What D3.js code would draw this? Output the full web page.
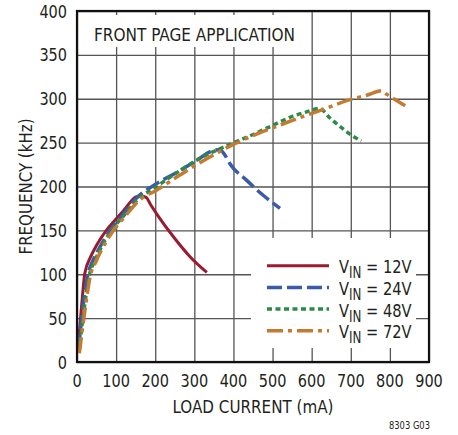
<!DOCTYPE html>
<html>
<head>
<meta charset="utf-8">
<script src="https://cdn.jsdelivr.net/npm/d3@7"></script>
<style>
  html, body { margin: 0; padding: 0; background: #fff; }
  svg { display: block; font-family: "Liberation Sans Narrow", "DejaVu Sans Condensed", "Arial Narrow", sans-serif; }
</style>
</head>
<body>
<svg id="chart" width="458" height="435"></svg>
<script>
// Switching frequency vs load current, one curve per input voltage
const xTicks = [0, 100, 200, 300, 400, 500, 600, 700, 800, 900];
const yTicks = [0, 50, 100, 150, 200, 250, 300, 350, 400];

const seriesLabels = ["12V", "24V", "48V", "72V"];

// [load current (mA), frequency (kHz)]
const vin12 = [[3,18],[12,65],[20,101],[35,120],[50,133],[75,150],[100,163],[120,173],[140,184],[150,188],[165,189],[176,188],[190,178],[208,166],[246,143],[289,120],[332,102]];
const vin24 = [[4,14],[15,62],[28,100],[40,115],[55,128],[84,150],[114,166],[148,185],[195,201],[255,216],[300,228],[349,241],[365,242],[378,236],[391,226],[434,207],[476,190],[519,175]];
const vin48 = [[5,12],[18,60],[32,100],[45,115],[59,128],[88,150],[118,166],[155,185],[200,199],[263,218],[306,230],[391,248],[459,261],[502,270],[557,281],[587,285],[620,289],[647,278],[685,264],[707,257],[727,252]];
const vin72 = [[6,10],[20,58],[35,100],[48,114],[63,128],[93,150],[123,166],[161,185],[200,195],[263,213],[314,227],[391,246],[450,258],[519,270],[579,280],[630,288],[698,299],[741,304],[779,309],[792,305],[817,298],[839,292]];

const series = [
  { label: seriesLabels[0], data: vin12, color: "#9a1a30", dash: null,        width: 3 },
  { label: seriesLabels[1], data: vin24, color: "#3b5ba9", dash: "15,5",      width: 3.5 },
  { label: seriesLabels[2], data: vin48, color: "#2c8a47", dash: "5,3.5",     width: 3.5 },
  { label: seriesLabels[3], data: vin72, color: "#c47a30", dash: "16,5,4,5",  width: 3.5 }
];

const ink = "#231f20";
const svg = d3.select("#chart");
const plot = { left: 77, right: 429, top: 11, bottom: 362 };

const x = d3.scaleLinear().domain([0, 900]).range([plot.left, plot.right]);
const y = d3.scaleLinear().domain([0, 400]).range([plot.bottom, plot.top]);

// narrow text: placed at (px,py) and squeezed horizontally
function narrowText(parent, px, py, anchor, size, sx) {
  return parent.append("g")
    .attr("transform", `translate(${px},${py}) scale(${sx},1)`)
    .append("text")
    .attr("text-anchor", anchor)
    .attr("font-size", size)
    .attr("fill", ink);
}

// grid
const grid = svg.append("g");
grid.append("g")
  .attr("transform", `translate(0,${plot.bottom})`)
  .call(d3.axisBottom(x).tickValues(xTicks).tickSize(-(plot.bottom - plot.top)).tickFormat(""))
  .call(g => g.select(".domain").remove())
  .call(g => g.selectAll("line").attr("stroke", "#555").attr("stroke-width", 1.3));
grid.append("g")
  .attr("transform", `translate(${plot.left},0)`)
  .call(d3.axisLeft(y).tickValues(yTicks).tickSize(-(plot.right - plot.left)).tickFormat(""))
  .call(g => g.select(".domain").remove())
  .call(g => g.selectAll("line").attr("stroke", "#555").attr("stroke-width", 1.3));

// title box
svg.append("rect").attr("x", 79).attr("y", 15).attr("width", 225).attr("height", 32).attr("fill", "#fff");
svg.append("text").attr("x", 94).attr("y", 41).attr("font-size", 18.5).attr("fill", ink)
  .attr("textLength", 201).attr("lengthAdjust", "spacingAndGlyphs")
  .text("FRONT PAGE APPLICATION");

// legend box
const lg = { x: 251, y: 238, w: 165, h: 110 };
svg.append("rect").attr("x", lg.x).attr("y", lg.y).attr("width", lg.w).attr("height", lg.h).attr("fill", "#fff");

// curves
const line = d3.line().x(d => x(d[0])).y(d => y(d[1])).curve(d3.curveMonotoneX);
series.forEach(s => {
  svg.append("path")
    .datum(s.data)
    .attr("d", line)
    .attr("fill", "none")
    .attr("stroke", s.color)
    .attr("stroke-width", s.width)
    .attr("stroke-dasharray", s.dash)
    .attr("stroke-linejoin", "round");
});

// legend entries
series.forEach((s, i) => {
  const ry = 265.7 + i * 21.7;
  svg.append("line")
    .attr("x1", 267).attr("x2", 329).attr("y1", ry).attr("y2", ry)
    .attr("stroke", s.color).attr("stroke-width", s.width)
    .attr("stroke-dasharray", s.dash);
  const t = narrowText(svg, 339, ry + 7.5, "start", 18.5, 0.88);
  t.append("tspan").text("V");
  t.append("tspan").attr("font-size", 15).attr("dy", 5).text("IN");
  t.append("tspan").attr("dy", -5).text(" = " + s.label);
});

// frame
svg.append("rect")
  .attr("x", plot.left).attr("y", plot.top)
  .attr("width", plot.right - plot.left).attr("height", plot.bottom - plot.top)
  .attr("fill", "none").attr("stroke", "#111").attr("stroke-width", 2.2);

// tick labels
yTicks.forEach(v => narrowText(svg, 67, y(v) + 6.5, "end", 18.5, 0.87).text(v));
xTicks.forEach(v => narrowText(svg, x(v), 387, "middle", 18.5, 0.87).text(v));

// axis titles
svg.append("text").attr("x", (plot.left + plot.right) / 2).attr("y", 413)
  .attr("text-anchor", "middle").attr("font-size", 18.5).attr("fill", ink)
  .attr("textLength", 161).attr("lengthAdjust", "spacingAndGlyphs")
  .text("LOAD CURRENT (mA)");
svg.append("text")
  .attr("transform", `translate(32,${(plot.top + plot.bottom) / 2}) rotate(-90)`)
  .attr("text-anchor", "middle").attr("font-size", 18.5).attr("fill", ink)
  .attr("textLength", 136).attr("lengthAdjust", "spacingAndGlyphs")
  .text("FREQUENCY (kHz)");

svg.append("text").attr("x", 430).attr("y", 429).attr("text-anchor", "end")
  .attr("font-size", 10).attr("fill", ink)
  .attr("textLength", 41).attr("lengthAdjust", "spacingAndGlyphs")
  .text("8303 G03");
</script>
</body>
</html>
